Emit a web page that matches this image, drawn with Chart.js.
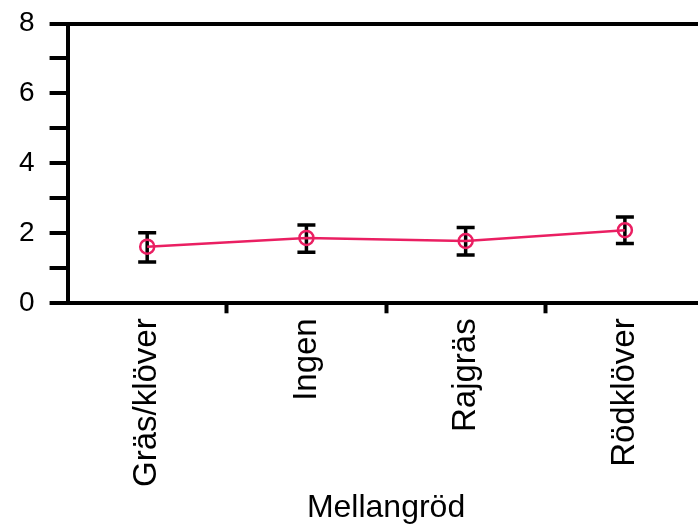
<!DOCTYPE html>
<html>
<head>
<meta charset="utf-8">
<script src="https://cdn.jsdelivr.net/npm/chart.js@4"></script>
<style>
    html, body { margin: 0; padding: 0; background: #fff; overflow: hidden; }
    #wrap { width: 698px; height: 527px; overflow: hidden; }
</style>
</head>
<body>
<div id="wrap"><canvas id="chart" width="714" height="527"></canvas></div>
<script>
// data
const categories = ['Gräs/klöver', 'Ingen', 'Rajgräs', 'Rödklöver'];
const means = [1.62, 1.87, 1.78, 2.09];
const upper = [2.02, 2.24, 2.17, 2.47];
const lower = [1.18, 1.46, 1.38, 1.71];
const yTicks = [0, 2, 4, 6, 8];
const xTitle = 'Mellangröd';

const fontFamily = "'Liberation Sans', Arial, sans-serif";
const pink = '#ea1f62';

// error bars, drawn under the points
const errorBars = {
    id: 'errorBars',
    beforeDatasetsDraw(chart) {
        const ctx = chart.ctx;
        const x = chart.scales.x, y = chart.scales.y;
        ctx.save();
        ctx.strokeStyle = '#000';
        ctx.lineWidth = 3.5;
        for (let i = 0; i < means.length; i++) {
            const px = x.getPixelForValue(i);
            const top = y.getPixelForValue(upper[i]);
            const bot = y.getPixelForValue(lower[i]);
            ctx.beginPath();
            ctx.moveTo(px, top); ctx.lineTo(px, bot);
            ctx.moveTo(px - 9, top); ctx.lineTo(px + 9, top);
            ctx.moveTo(px - 9, bot); ctx.lineTo(px + 9, bot);
            ctx.stroke();
        }
        ctx.restore();
    }
};

new Chart(document.getElementById('chart'), {
    type: 'line',
    data: {
        labels: categories,
        datasets: [{
            data: means,
            borderColor: pink,
            borderWidth: 2.5,
            pointRadius: 7,
            pointBorderWidth: 2.5,
            pointBorderColor: pink,
            pointBackgroundColor: 'rgba(0,0,0,0)',
            tension: 0
        }]
    },
    options: {
        responsive: false,
        animation: false,
        layout: { padding: { left: 4, right: 0, top: 23.5, bottom: 0 } },
        plugins: {
            legend: { display: false },
            tooltip: { enabled: false }
        },
        scales: {
            x: {
                offset: true,
                grid: {
                    offset: true,
                    drawOnChartArea: false,
                    tickLength: 10,
                    tickWidth: 4,
                    tickColor: ctx => (ctx.index > 0 ? '#000' : 'rgba(0,0,0,0)')
                },
                border: { color: '#000', width: 4 },
                ticks: {
                    color: '#000',
                    minRotation: 90,
                    maxRotation: 90,
                    padding: 5,
                    font: { family: fontFamily, size: 33 }
                },
                title: {
                    display: true,
                    text: xTitle,
                    color: '#000',
                    padding: { top: 0, bottom: 3 },
                    font: { family: fontFamily, size: 32, lineHeight: 1 }
                }
            },
            y: {
                min: 0,
                max: 8,
                grid: {
                    color: ctx => (ctx.tick && ctx.tick.value === 8 ? '#000' : 'rgba(0,0,0,0)'),
                    lineWidth: 4,
                    tickLength: 18,
                    tickWidth: 4,
                    tickColor: '#000'
                },
                border: { color: '#000', width: 4 },
                ticks: {
                    stepSize: 1,
                    color: '#000',
                    padding: 15,
                    font: { family: fontFamily, size: 28, lineHeight: 0.6 },
                    callback: v => (yTicks.includes(v) ? v : '')
                }
            }
        }
    },
    plugins: [errorBars]
});
</script>
</body>
</html>
